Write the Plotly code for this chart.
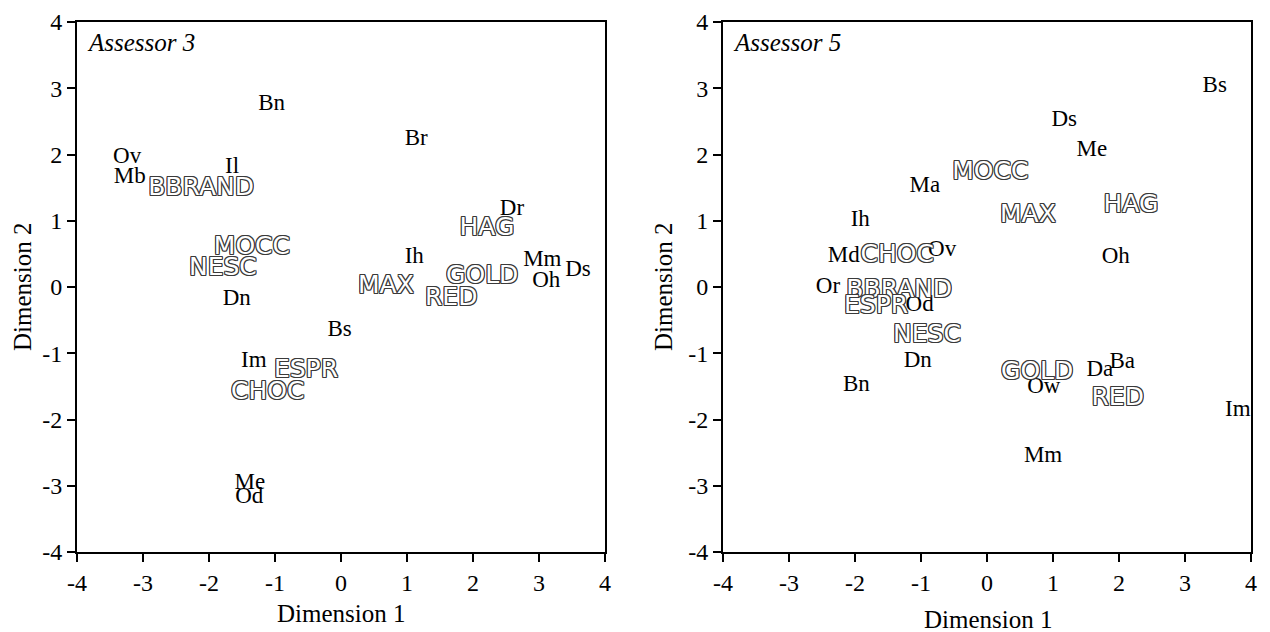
import plotly.graph_objects as go

# ---- Assessor 3 ----
a3_attr_labels = ["Bn", "Br", "Ov", "Mb", "Il", "Dr", "Ih", "Mm", "Ds", "Oh", "Dn", "Bs", "Im", "Me", "Od"]
a3_attr_x = [-1.05, 1.14, -3.24, -3.20, -1.65, 2.59, 1.11, 3.05, 3.59, 3.11, -1.58, -0.02, -1.32, -1.38, -1.39]
a3_attr_y = [2.76, 2.23, 1.96, 1.66, 1.81, 1.18, 0.45, 0.41, 0.26, 0.09, -0.18, -0.65, -1.12, -2.96, -3.18]

a3_prod_labels = ["BBRAND", "HAG", "MOCC", "NESC", "GOLD", "MAX", "RED", "ESPR", "CHOC"]
a3_prod_x = [-2.12, 2.21, -1.35, -1.79, 2.14, 0.68, 1.67, -0.53, -1.11]
a3_prod_y = [1.49, 0.88, 0.59, 0.27, 0.15, 0.00, -0.18, -1.27, -1.60]

# ---- Assessor 5 ----
a5_attr_labels = ["Bs", "Ds", "Me", "Ma", "Ih", "Md", "Ov", "Oh", "Or", "Od", "Dn", "Bn", "Ow", "Da", "Ba", "Im", "Mm"]
a5_attr_x = [3.45, 1.17, 1.59, -0.94, -1.92, -2.17, -0.68, 1.95, -2.41, -1.02, -1.05, -1.98, 0.86, 1.71, 2.05, 3.80, 0.85]
a5_attr_y = [3.03, 2.51, 2.07, 1.52, 1.01, 0.47, 0.56, 0.45, 0.00, -0.27, -1.12, -1.49, -1.51, -1.25, -1.13, -1.86, -2.55]

a5_prod_labels = ["MOCC", "MAX", "HAG", "CHOC", "BBRAND", "ESPR", "NESC", "GOLD", "RED"]
a5_prod_x = [0.05, 0.62, 2.18, -1.36, -1.33, -1.68, -0.91, 0.76, 1.98]
a5_prod_y = [1.72, 1.07, 1.22, 0.47, -0.05, -0.30, -0.74, -1.30, -1.68]

panel_titles = ["Assessor 3", "Assessor 5"]
x_title = "Dimension 1"
y_title = "Dimension 2"
axis_ticks = [-4, -3, -2, -1, 0, 1, 2, 3, 4]

SERIF = "Liberation Serif, Times New Roman, serif"
SANS = "DejaVu Sans"
oc = "#3a3a3a"
outline = ", ".join(f"{dx}px {dy}px 0 {oc}" for dx, dy in
                    [(1, 0), (-1, 0), (0, 1), (0, -1), (1, 1), (-1, -1), (1, -1), (-1, 1)])

fig = go.Figure()

panels = [
    (a3_attr_labels, a3_attr_x, a3_attr_y, a3_prod_labels, a3_prod_x, a3_prod_y, "x", "y"),
    (a5_attr_labels, a5_attr_x, a5_attr_y, a5_prod_labels, a5_prod_x, a5_prod_y, "x2", "y2"),
]
for al, ax_, ay, pl, px, py, xa, ya in panels:
    fig.add_trace(go.Scatter(
        x=ax_, y=ay, text=al, mode="text", textposition="middle center",
        textfont=dict(family=SERIF, size=23, color="black"),
        xaxis=xa, yaxis=ya, hoverinfo="skip", showlegend=False, cliponaxis=False))
    fig.add_trace(go.Scatter(
        x=px, y=py, text=pl, mode="text", textposition="middle center",
        textfont=dict(family=SANS, size=25, color="white", shadow=outline),
        xaxis=xa, yaxis=ya, hoverinfo="skip", showlegend=False, cliponaxis=False))

axis_common = dict(
    range=[-4, 4], tickmode="array", tickvals=axis_ticks, ticktext=[str(t) for t in axis_ticks],
    showgrid=False, zeroline=False, showline=True, linecolor="black", linewidth=2,
    mirror=True, ticks="outside", ticklen=8, tickwidth=2, tickcolor="black",
    tickfont=dict(family=SERIF, size=24, color="black"), automargin=False,
)

title_font = dict(family=SERIF, size=25, color="black")
W, H = 1270, 632

fig.update_layout(
    width=W, height=H,
    margin=dict(l=0, r=0, t=0, b=0),
    font=dict(family=SERIF),
    paper_bgcolor="white", plot_bgcolor="white",
    xaxis=dict(axis_common, domain=[77/W, 605/W], anchor="y"),
    yaxis=dict(axis_common, domain=[80/H, 610/H], anchor="x"),
    xaxis2=dict(axis_common, domain=[723/W, 1251/W], anchor="y2"),
    yaxis2=dict(axis_common, domain=[80/H, 610/H], anchor="x2"),
    annotations=[
        dict(text=panel_titles[0], xref="x domain", yref="y domain", x=0.015, y=0.99,
             xanchor="left", yanchor="top", showarrow=False,
             font=dict(family=SERIF, size=25, color="black", style="italic")),
        dict(text=panel_titles[1], xref="x2 domain", yref="y2 domain", x=0.015, y=0.99,
             xanchor="left", yanchor="top", showarrow=False,
             font=dict(family=SERIF, size=25, color="black", style="italic")),
        dict(text=x_title, xref="paper", yref="paper", x=341/W, y=1-613/H,
             xanchor="center", yanchor="middle", showarrow=False, font=title_font),
        dict(text=x_title, xref="paper", yref="paper", x=988/W, y=1-619/H,
             xanchor="center", yanchor="middle", showarrow=False, font=title_font),
        dict(text=y_title, xref="paper", yref="paper", x=22/W, y=1-287/H, textangle=-90,
             xanchor="center", yanchor="middle", showarrow=False, font=title_font),
        dict(text=y_title, xref="paper", yref="paper", x=663/W, y=1-287/H, textangle=-90,
             xanchor="center", yanchor="middle", showarrow=False, font=title_font),
    ],
)

fig.write_html("out.html")
